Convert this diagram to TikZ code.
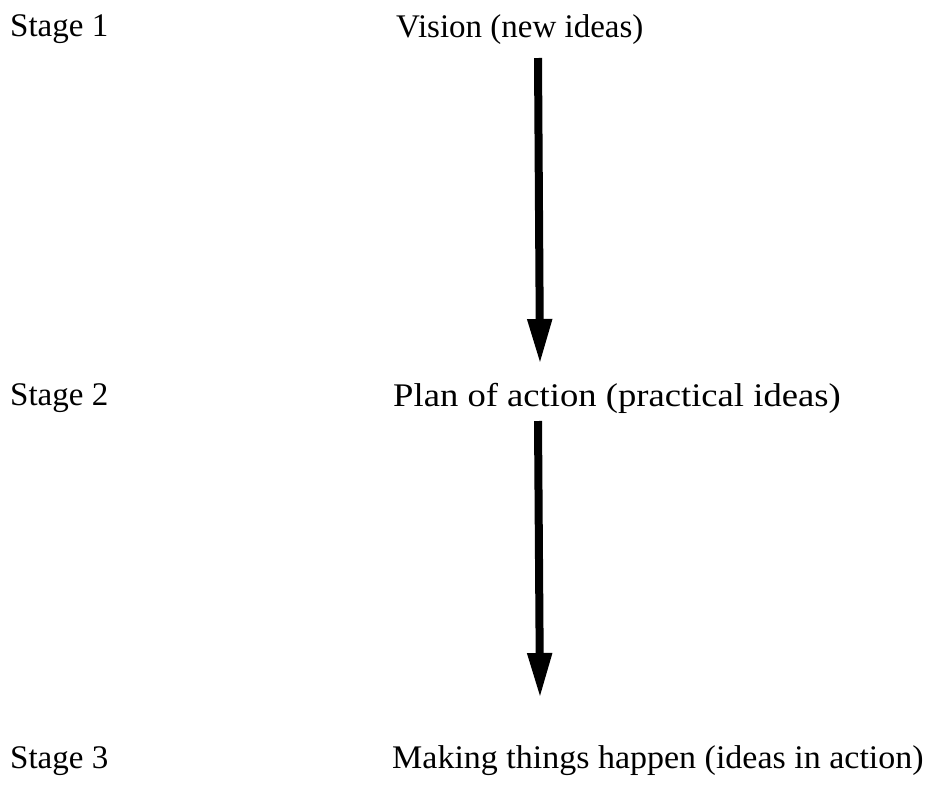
\documentclass[tikz,border=0pt]{standalone}
\usepackage{fontspec}
\setmainfont{Liberation Serif}
\usetikzlibrary{arrows.meta}
\begin{document}
\begin{tikzpicture}[x=1pt,y=-1pt,
  lbl/.style={anchor=base west,inner sep=0pt,font=\fontsize{33}{36}\selectfont},
  flow/.style={line width=8pt,-{Triangle[width=23pt,length=45pt]}}]
\useasboundingbox (0,0) rectangle (930,788);
\node[lbl] (s1) at (10,36) {Stage 1};
\node[lbl] (s2) at (10,405) {Stage 2};
\node[lbl] (s3) at (10,768) {Stage 3};
\node[lbl] (v) at (396,37) {Vision (new ideas)};
\node[lbl,xscale=1.11] (p) at (393,406) {Plan of action (practical ideas)};
\node[lbl,xscale=1.03] (m) at (392,768) {Making things happen (ideas in action)};
\coordinate (a1s) at (538,58);
\coordinate (a1e) at (540,364);
\coordinate (a2s) at (538,421);
\coordinate (a2e) at (540,698);
\draw[flow] (a1s) -- (a1e);
\draw[flow] (a2s) -- (a2e);
\end{tikzpicture}
\end{document}
